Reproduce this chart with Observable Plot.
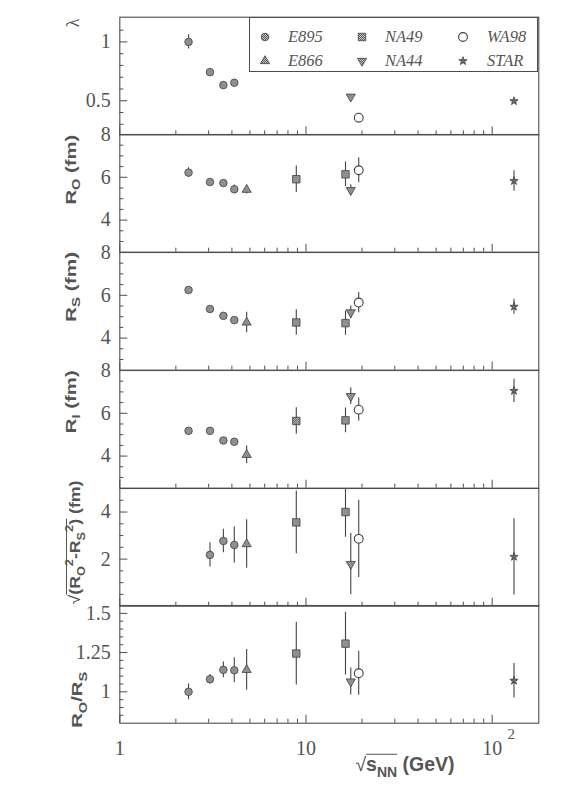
<!DOCTYPE html>
<html>
<head>
<meta charset="utf-8">
<script src="https://cdn.jsdelivr.net/npm/d3@7"></script>
<script src="https://cdn.jsdelivr.net/npm/@observablehq/plot@0.6"></script>
<style>
  html, body { margin: 0; padding: 0; background: #fff; }
  #wrap { position: relative; width: 580px; height: 795px; overflow: hidden; background: #fff; }
  #wrap svg.panel { position: absolute; left: 0; }
  .leg { position: absolute; box-sizing: border-box; border: 1px solid #4d4d4d; background: #fff; }
  .leg .it { position: absolute; font-style: italic; font-size: 16.5px; font-family: "Liberation Serif", "Liberation Sans", Arial, sans-serif; color: #555; line-height: 20px; white-space: nowrap; }
  .leg svg { position: absolute; overflow: visible; }
</style>
</head>
<body>
<div id="wrap">
  <svg width="0" height="0" style="position:absolute">
    <defs>
      <pattern id="hatch" patternUnits="userSpaceOnUse" width="2" height="2">
        <rect width="2" height="2" fill="#cacaca"></rect>
        <rect width="1" height="1" fill="#555555"></rect>
        <rect x="1" y="1" width="1" height="1" fill="#555555"></rect>
      </pattern>
    </defs>
  </svg>
</div>
<script>
// ---------------- data ----------------
const experiments = ["E895", "E866", "NA49", "NA44", "WA98", "STAR"];
const rowExp    = ["E895", "E895", "E895", "E895", "E866", "NA49", "NA49", "NA44", "WA98", "STAR"];
const rowEnergy = [2.34, 3.05, 3.6, 4.12, 4.8, 8.87, 16.3, 17.4, 19.2, 131];

const lambda      = [1.0, 0.743, 0.633, 0.653, null, null, null, 0.534, 0.356, 0.497];
const lambdaErr   = [0.06, 0.02, 0.02, 0.02, null, null, null, 0.02, 0.02, 0.02];
const rOut        = [6.22, 5.78, 5.73, 5.44, 5.42, 5.91, 6.14, 5.40, 6.33, 5.83];
const rOutErr     = [0.23, 0.1, 0.1, 0.2, 0.2, 0.62, 0.57, 0.25, 0.58, 0.48];
const rSide       = [6.25, 5.36, 5.04, 4.84, 4.73, 4.73, 4.70, 5.20, 5.66, 5.47];
const rSideErr    = [0.08, 0.08, 0.08, 0.08, 0.48, 0.60, 0.57, 0.30, 0.47, 0.35];
const rLong       = [5.18, 5.18, 4.73, 4.67, 4.06, 5.64, 5.67, 6.80, 6.17, 7.05];
const rLongErr    = [0.08, 0.08, 0.08, 0.1, 0.41, 0.62, 0.58, 0.39, 0.54, 0.54];
const rDiff       = [null, 2.18, 2.77, 2.60, 2.64, 3.56, 4.00, 1.79, 2.86, 2.10];
const rDiffErr    = [null, 0.52, 0.50, 0.76, 1.03, 1.33, 1.07, 1.30, 1.64, 1.62];
const rRatio      = [1.0, 1.08, 1.14, 1.137, 1.14, 1.244, 1.307, 1.065, 1.118, 1.071];
const rRatioErr   = [0.05, 0.03, 0.05, 0.08, 0.13, 0.20, 0.20, 0.086, 0.14, 0.11];

const xMajor = [1, 10, 100];
const xMinor = [2, 3, 4, 5, 6, 7, 8, 9, 20, 30, 40, 50, 60, 70, 80, 90];
const xTickText = ["1", "10", "10"];

const lambdaTicks = [0.5, 1];
const lambdaMinor = [0.3, 0.4, 0.6, 0.7, 0.8, 0.9, 1.1];
const radiusTicks = [4, 6, 8];
const radiusMinor = [3, 3.5, 4.5, 5, 5.5, 6.5, 7, 7.5];
const diffTicks = [2, 4];
const diffMinor = [0.5, 1, 1.5, 2.5, 3, 3.5, 4.5];
const ratioTicks = [1, 1.25, 1.5];
const ratioMinor = [0.85, 0.9, 0.95, 1.05, 1.1, 1.15, 1.2, 1.3, 1.35, 1.4, 1.45];

const legendOrder = ["E895", "NA49", "WA98", "E866", "NA44", "STAR"];

// ---------------- styling ----------------
const ink = "#4d4d4d";
const labInk = "#555";
const tickFont = "'Liberation Serif', 'Liberation Sans', Arial, sans-serif";
const sans = "'Liberation Sans', Arial, Helvetica, sans-serif";

const triangleDown = {
  draw(context, size) {
    const y = -Math.sqrt(size / (Math.sqrt(3) * 3));
    context.moveTo(0, -y * 2);
    context.lineTo(-Math.sqrt(3) * y, y);
    context.lineTo(Math.sqrt(3) * y, y);
    context.closePath();
  }
};
const symbolOf = {E895: d3.symbolCircle, E866: d3.symbolTriangle, NA49: d3.symbolSquare, NA44: triangleDown, WA98: d3.symbolCircle, STAR: d3.symbolStar};
const radiusOf = {E895: 3.8, E866: 3.4, NA49: 4.2, NA44: 3.4, WA98: 4.4, STAR: 2.6};
const fillOf = {E895: "url(#hatch)", E866: "url(#hatch)", NA49: "url(#hatch)", NA44: "url(#hatch)", WA98: "#ffffff", STAR: "#6a6a6a"};

// ---------------- layout ----------------
const W = 580;
const ML = 119.3, MR = 580 - 538.3;
const PH = 117.7;
const top0 = 16.7;
const innerW = W - ML - MR;

const panels = [
  {values: lambda, errors: lambdaErr, domain: [0.21, 1.21], major: lambdaTicks, minor: lambdaMinor},
  {values: rOut, errors: rOutErr, domain: [2.5, 8], major: radiusTicks, minor: radiusMinor},
  {values: rSide, errors: rSideErr, domain: [2.5, 8], major: radiusTicks, minor: radiusMinor},
  {values: rLong, errors: rLongErr, domain: [2.5, 8], major: radiusTicks, minor: radiusMinor},
  {values: rDiff, errors: rDiffErr, domain: [0, 5], major: diffTicks, minor: diffMinor},
  {values: rRatio, errors: rRatioErr, domain: [0.8, 1.55], major: ratioTicks, minor: ratioMinor}
];

const wrap = document.getElementById("wrap");

function addText(svg, o) {
  const g = d3.select(svg).append("g").attr("transform", `translate(${o.x},${o.y}) rotate(${o.rotate || 0})`);
  const t = g.append("text")
    .attr("text-anchor", o.anchor || "start")
    .attr("font-size", o.size)
    .attr("font-family", o.family)
    .attr("font-weight", o.weight || "normal")
    .attr("fill", o.fill || labInk);
  let cur = 0;
  for (const p of o.parts) {
    const target = p.k === "sub" ? o.size * 0.32 : p.k === "sup" ? -o.size * 0.45 : 0;
    const sp = t.append("tspan").attr("dy", target - cur).text(p.t);
    if (p.k === "sub" || p.k === "sup") sp.attr("font-size", o.size * 0.72);
    if (p.w) sp.attr("font-weight", p.w);
    if (p.f) sp.attr("font-family", p.f);
    cur = target;
  }
  if (o.length) t.attr("textLength", o.length).attr("lengthAdjust", "spacingAndGlyphs");
  if (o.overline) {
    const node = t.node();
    try {
      const a = node.getStartPositionOfChar(o.overline[0]).x;
      const b = node.getEndPositionOfChar(o.overline[1]).x;
      g.append("line").attr("x1", a).attr("x2", b)
        .attr("y1", o.overline[2]).attr("y2", o.overline[2])
        .attr("stroke", o.fill || labInk).attr("stroke-width", 1);
    } catch (e) {}
  }
}

panels.forEach((cfg, i) => {
  const isLast = i === panels.length - 1;
  const mt = i === 0 ? top0 : 14;
  const mb = isLast ? 72 : 14;
  const panelTop = top0 + i * PH;
  const svgTop = panelTop - mt;

  const rows = rowEnergy
    .map((x, k) => ({exp: rowExp[k], x, y: cfg.values[k], e: cfg.errors[k]}))
    .filter(d => d.y != null);

  const marks = [
    Plot.tickY(cfg.minor, {y: d => d, insetRight: innerW - 4, stroke: ink, strokeWidth: 1}),
    Plot.tickY(cfg.major, {y: d => d, insetRight: innerW - 8, stroke: ink, strokeWidth: 1}),
    Plot.tickX(xMinor, {x: d => d, insetTop: PH - 4, stroke: ink, strokeWidth: 1}),
    Plot.tickX(xMajor, {x: d => d, insetTop: PH - 8, stroke: ink, strokeWidth: 1}),
    Plot.axisY({ticks: cfg.major, tickSize: 0, tickPadding: 9, tickFormat: d => String(d),
      fontSize: 20, fontFamily: tickFont, fill: labInk, label: null}),
    Plot.ruleX(rows, {x: "x", y1: d => d.y - d.e, y2: d => d.y + d.e, stroke: "#444", strokeWidth: 1.1, clip: true}),
    ...experiments.map(exp => Plot.dot(rows.filter(d => d.exp === exp), {
      x: "x", y: "y", symbol: symbolOf[exp], r: radiusOf[exp],
      fill: () => fillOf[exp], stroke: "#404040", strokeWidth: exp === "WA98" ? 1.1 : 0.8
    })),
    Plot.frame({stroke: ink, strokeWidth: 1.1})
  ];
  if (isLast) {
    marks.push(Plot.axisX({ticks: xMajor, tickSize: 0, tickPadding: 18,
      tickFormat: d => xTickText[xMajor.indexOf(d)],
      fontSize: 20, fontFamily: tickFont, fill: labInk, label: null}));
    marks.push(Plot.text([100], {x: d => d, text: () => "2", frameAnchor: "bottom", lineAnchor: "top",
      dy: 5, dx: 19, fontSize: 15, fontFamily: tickFont, fill: labInk}));
  }

  const svg = Plot.plot({
    width: W, height: PH + mt + mb,
    marginLeft: ML, marginRight: MR, marginTop: mt, marginBottom: mb,
    x: {type: "log", domain: [1, 178], axis: null},
    y: {domain: cfg.domain, axis: null},
    color: {type: "identity"},
    style: {background: "transparent", overflow: "visible", fontFamily: tickFont},
    marks
  });
  svg.classList.add("panel");
  svg.style.top = svgTop + "px";
  wrap.appendChild(svg);
  cfg.svg = svg;
  cfg.svgTop = svgTop;
});

// ---------------- axis titles ----------------
const lab = {size: 15.5, family: sans, weight: "bold", rotate: -90};
const P = panels;
addText(P[0].svg, {x: 79, y: 23 - P[0].svgTop, rotate: -90, anchor: "middle", size: 18, family: tickFont, parts: [{t: "λ"}]});
addText(P[1].svg, {...lab, x: 75.5, y: 205 - P[1].svgTop, length: 70,
  parts: [{t: "R"}, {t: "O", k: "sub"}, {t: " (fm)"}]});
addText(P[2].svg, {...lab, x: 75.5, y: 322 - P[2].svgTop, length: 70,
  parts: [{t: "R"}, {t: "S", k: "sub"}, {t: " (fm)"}]});
addText(P[3].svg, {...lab, x: 75.5, y: 433 - P[3].svgTop, length: 63,
  parts: [{t: "R"}, {t: "l", k: "sub"}, {t: " (fm)"}]});
addText(P[4].svg, {...lab, x: 80, y: 604 - P[4].svgTop, length: 124, overline: [1, 9, -13.5],
  parts: [{t: "√", w: "normal"}, {t: "(R"}, {t: "O", k: "sub"}, {t: "2", k: "sup"}, {t: "-R"}, {t: "S", k: "sub"}, {t: "2", k: "sup"}, {t: ")"}, {t: " (fm)"}]});
addText(P[5].svg, {...lab, x: 82, y: 728 - P[5].svgTop, length: 56,
  parts: [{t: "R"}, {t: "O", k: "sub"}, {t: "/R"}, {t: "S", k: "sub"}]});
addText(P[5].svg, {x: 405, y: 771 - P[5].svgTop, anchor: "middle", size: 19.5, family: sans, weight: "bold",
  overline: [1, 3, -16.5],
  parts: [{t: "√", w: "normal"}, {t: "s"}, {t: "NN", k: "sub"}, {t: " (GeV)"}]});

// ---------------- legend ----------------
const leg = document.createElement("div");
leg.className = "leg";
const legLeft = 249, legTop = top0, legRight = 538.3, legBottom = 71.7;
Object.assign(leg.style, {left: legLeft + "px", top: legTop + "px", width: (legRight - legLeft) + "px", height: (legBottom - legTop) + "px"});
wrap.appendChild(leg);
const colMarker = [264, 361, 462], colText = [287, 384, 486], rowY = [35.7, 60];
legendOrder.forEach((exp, j) => {
  const c = j % 3, r = Math.floor(j / 3);
  const s = d3.create("svg").attr("width", 14).attr("height", 14)
    .style("left", (colMarker[c] - legLeft - 7) + "px").style("top", (rowY[r] - legTop - 7) + "px");
  s.append("path")
    .attr("transform", "translate(7,7)")
    .attr("d", d3.symbol(symbolOf[exp], Math.PI * radiusOf[exp] ** 2)())
    .attr("fill", fillOf[exp]).attr("stroke", "#404040").attr("stroke-width", exp === "WA98" ? 1.1 : 0.8);
  leg.appendChild(s.node());
  const t = document.createElement("div");
  t.className = "it";
  t.textContent = exp;
  t.style.left = (colText[c] - legLeft) + "px";
  t.style.top = (rowY[r] - legTop - 10) + "px";
  leg.appendChild(t);
});
</script>
</body>
</html>
